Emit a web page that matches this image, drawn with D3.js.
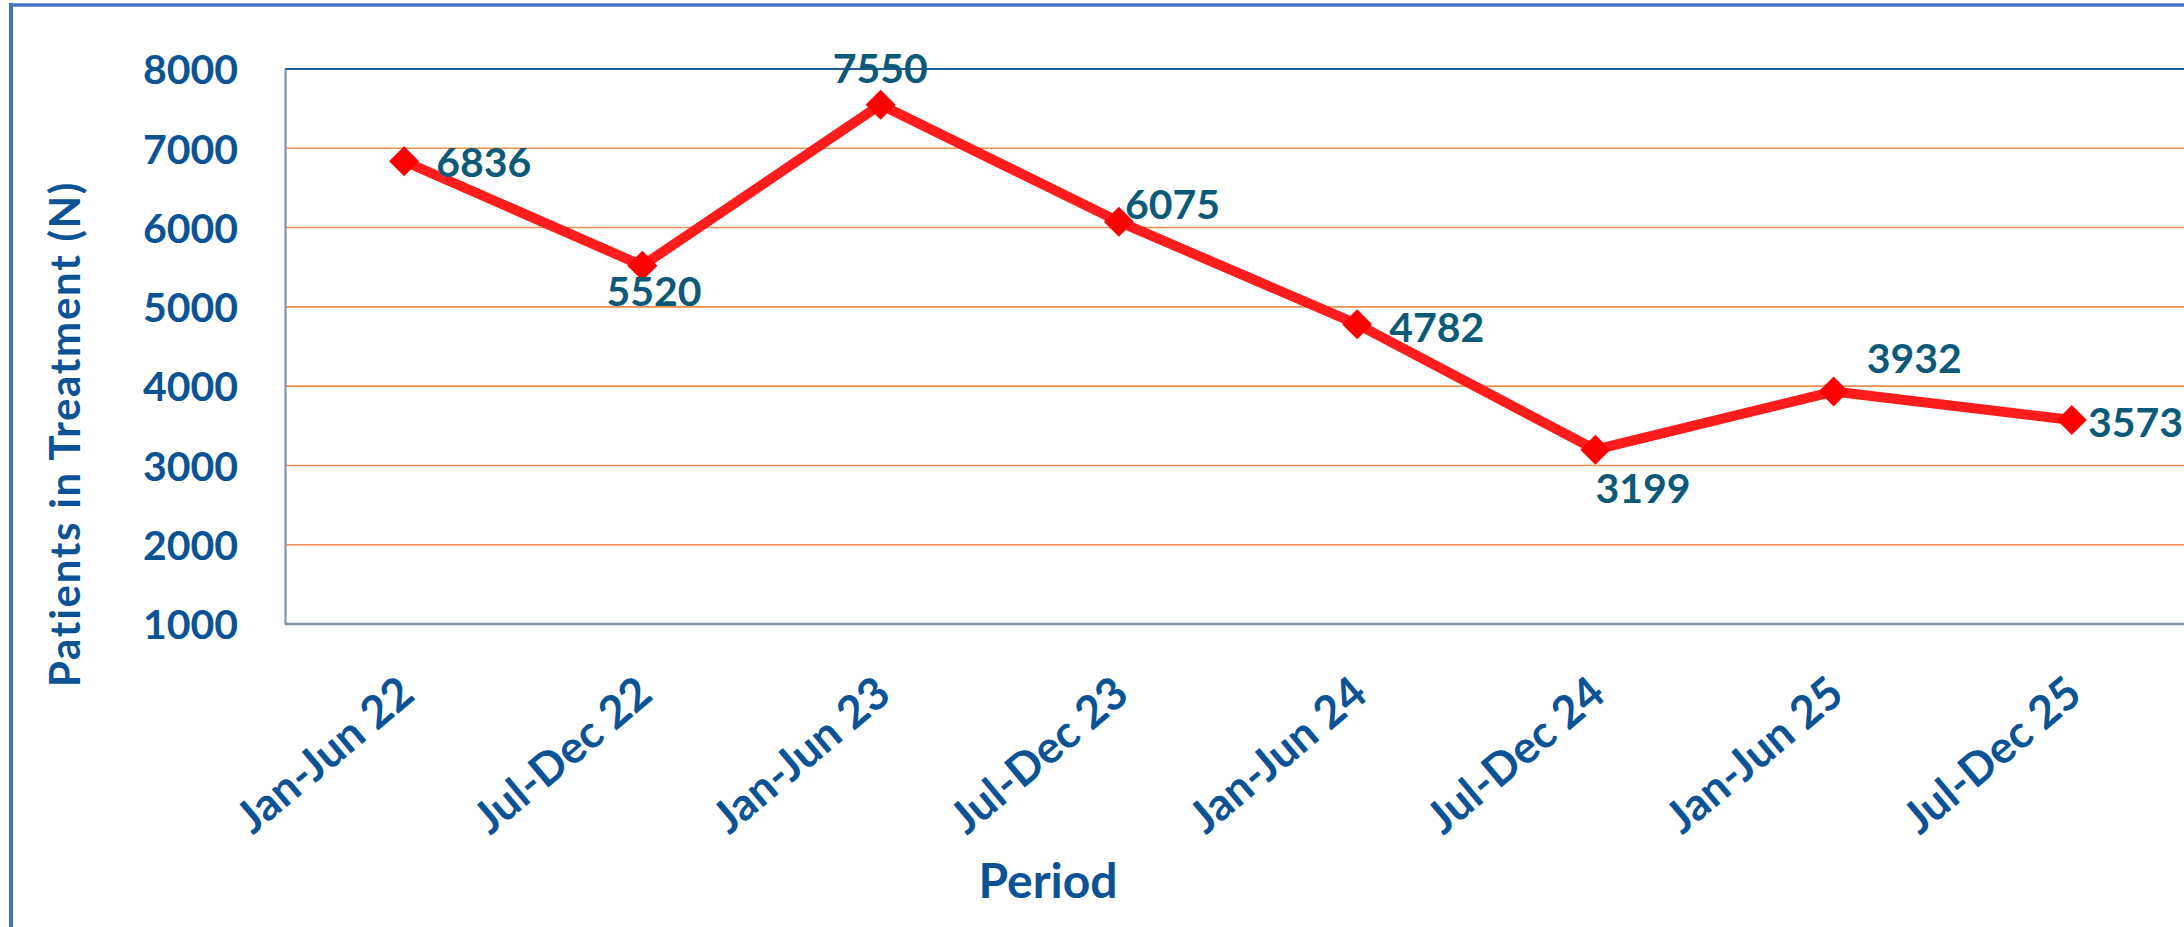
<!DOCTYPE html>
<html>
<head>
<meta charset="utf-8">
<script src="https://cdn.jsdelivr.net/npm/d3@7"></script>
<style>
  html, body { margin: 0; padding: 0; background: #ffffff; overflow: hidden; }
  svg { display: block; }
</style>
</head>
<body>
<script>
// ---- data ----
const categories = ["Jan-Jun 22", "Jul-Dec 22", "Jan-Jun 23", "Jul-Dec 23", "Jan-Jun 24", "Jul-Dec 24", "Jan-Jun 25", "Jul-Dec 25"];
const patients = [6836, 5520, 7550, 6075, 4782, 3199, 3932, 3573];
const yTicks = [1000, 2000, 3000, 4000, 5000, 6000, 7000, 8000];
const yTitle = "Patients in Treatment (N)";
const xTitle = "Period";

// label placement (layout only): offset of label left edge / baseline from point
const labelDx = [32, -36, -48, 6, 32, 0, 33, 16];
const labelDy = [16, 40, -22, -3, 18, 53, -19, 17];

// ---- layout ----
const W = 2184, H = 927;
const plot = { left: 285, top: 69, right: 2191, bottom: 624 };
const fontFam = "Lato, 'Open Sans', sans-serif";

const svg = d3.select("body").append("svg").attr("width", W).attr("height", H);
svg.append("rect").attr("width", W).attr("height", H).attr("fill", "#ffffff");

// outer frame (cut off at right/bottom)
svg.append("line").attr("x1", 11).attr("x2", 11).attr("y1", 3).attr("y2", H)
  .attr("stroke", "#4472C4").attr("stroke-width", 4);
svg.append("line").attr("x1", 9).attr("x2", W).attr("y1", 5).attr("y2", 5)
  .attr("stroke", "#4472C4").attr("stroke-width", 3.5);

const x = d3.scalePoint().domain(categories).range([plot.left, plot.right]).padding(0.5);
const y = d3.scaleLinear().domain([1000, 8000]).range([plot.bottom, plot.top]);

// gridlines
svg.append("g").selectAll("line").data(yTicks.filter(t => t > 1000 && t < 8000)).join("line")
  .attr("x1", plot.left).attr("x2", plot.right)
  .attr("y1", d => y(d)).attr("y2", d => y(d))
  .attr("stroke", "#F2914F").attr("stroke-width", 1.6);

// plot top border
svg.append("line").attr("x1", plot.left).attr("x2", plot.right)
  .attr("y1", y(8000)).attr("y2", y(8000))
  .attr("stroke", "#1F5C99").attr("stroke-width", 2.2);

// y axis
const yAxis = d3.axisLeft(y).tickValues(yTicks).tickSize(0).tickPadding(47).tickFormat(d3.format("d"));
const gy = svg.append("g").attr("transform", `translate(${plot.left},0)`).call(yAxis);
gy.select(".domain").attr("stroke", "#8094AA").attr("stroke-width", 2.2);
gy.selectAll("text").attr("font-family", fontFam).attr("font-weight", 700)
  .attr("font-size", 41).attr("fill", "#0B5394").attr("dy", "0.36em");

// x axis
const xAxis = d3.axisBottom(x).tickSize(0).tickPadding(0);
const gx = svg.append("g").attr("transform", `translate(0,${plot.bottom})`).call(xAxis);
gx.select(".domain").attr("stroke", "#8094AA").attr("stroke-width", 2.5)
  .attr("d", `M${plot.left},0H${plot.right}`);
gx.selectAll("text").attr("font-family", fontFam).attr("font-weight", 700)
  .attr("font-size", 45).attr("fill", "#0B5394")
  .attr("text-anchor", "end").attr("dy", 0).attr("y", 0)
  .attr("transform", "translate(12,74) rotate(-40)");

// line
const line = d3.line().x((d, i) => x(categories[i])).y(d => y(d));
svg.append("path").datum(patients).attr("d", line)
  .attr("fill", "none").attr("stroke", "#FF1C1C").attr("stroke-width", 10)
  .attr("stroke-linejoin", "round");

// markers (diamonds)
const r = 15;
svg.append("g").selectAll("path").data(patients).join("path")
  .attr("d", (d, i) => {
    const cx = x(categories[i]), cy = y(d);
    return `M${cx},${cy - r}L${cx + r},${cy}L${cx},${cy + r}L${cx - r},${cy}Z`;
  })
  .attr("fill", "#FF0000");

// data labels
svg.append("g").selectAll("text").data(patients).join("text")
  .attr("x", (d, i) => x(categories[i]) + labelDx[i])
  .attr("y", (d, i) => y(d) + labelDy[i])
  .attr("font-family", fontFam).attr("font-weight", 700).attr("font-size", 41)
  .attr("fill", "#0D5A78")
  .text(d => d);

// axis titles
svg.append("text").attr("transform", "translate(80,434) rotate(-90)")
  .attr("text-anchor", "middle").attr("font-family", fontFam).attr("font-weight", 700)
  .attr("font-size", 42).attr("letter-spacing", 1.7).attr("fill", "#0B5394").text(yTitle);
svg.append("text").attr("x", 1048).attr("y", 898)
  .attr("text-anchor", "middle").attr("font-family", fontFam).attr("font-weight", 700)
  .attr("font-size", 48).attr("fill", "#0B5394").text(xTitle);
</script>
</body>
</html>
